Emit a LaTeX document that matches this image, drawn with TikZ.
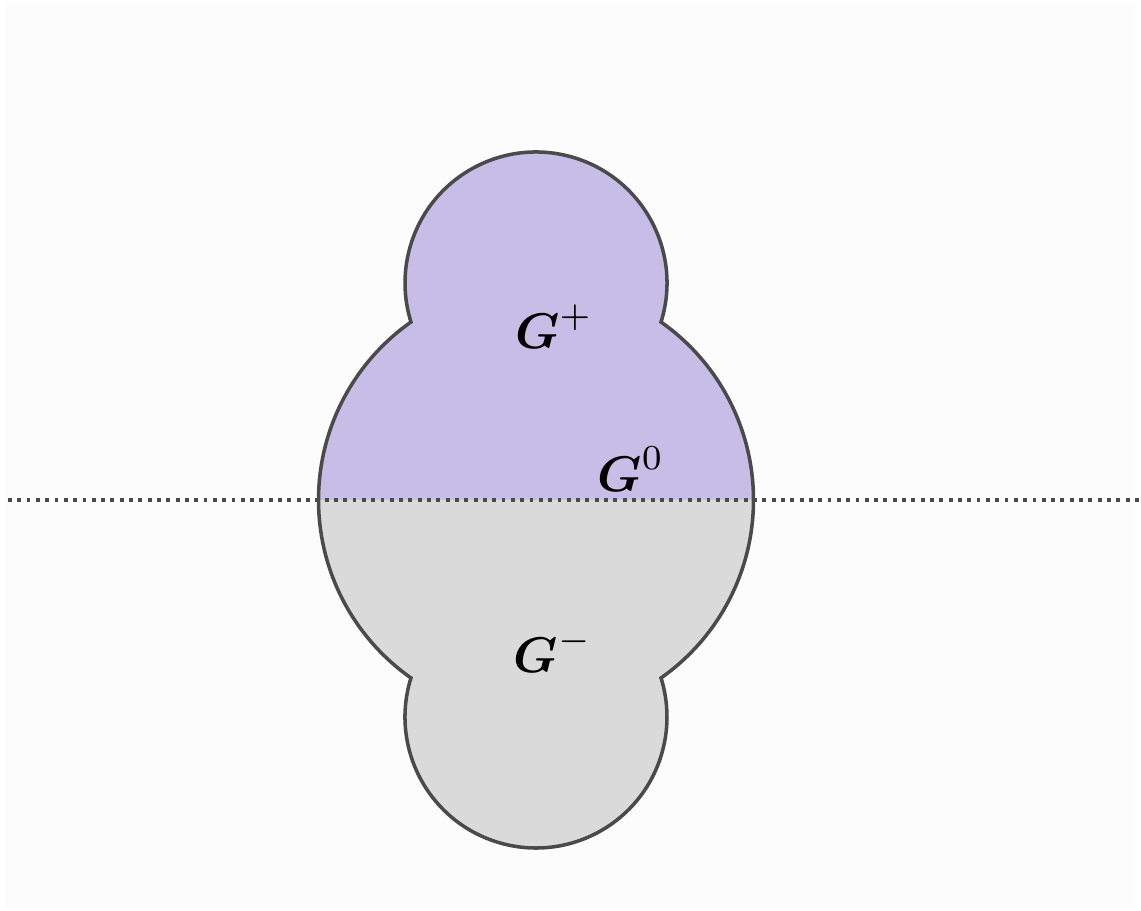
\documentclass[tikz,border=0pt]{standalone}
\usepackage{amsmath,amssymb}
\usetikzlibrary{calc}
\definecolor{plusfill}{HTML}{C6BEE6}
\definecolor{minusfill}{HTML}{DADADA}
\definecolor{rim}{HTML}{4A4A4A}
\definecolor{paper}{HTML}{FCFCFC}
\tikzset{
  rimline/.style={draw=rim,line width=2pt},
  cutline/.style={draw=rim,line width=2.2pt,dash pattern=on 2.2pt off 3.1pt},
  lbl/.style={scale=2.85,transform shape}
}
\begin{document}
\begin{tikzpicture}[x=1cm,y=1cm]
				\useasboundingbox (-10.72,-8.22) rectangle (12.1,10);
				\fill[paper] (-10.62,-8.16) rectangle (11.98,9.94);
				% radii and angles of the contact points
				\pgfmathsetmacro{\R}{4.35}
				\pgfmathsetmacro{\r}{2.62}
				\pgfmathsetmacro{\d}{4.34}
				\pgfmathsetmacro{\a}{(\d*\d+\R*\R-\r*\r)/(2*\d)}
				\pgfmathsetmacro{\h}{sqrt(\R*\R-\a*\a)}
				\pgfmathsetmacro{\bigang}{atan2(\a,\h)}
				\pgfmathsetmacro{\smallang}{atan2(\a-\d,\h)}
				\coordinate (O) at (0,0);
				\coordinate (E) at (\R,0);
				\coordinate (W) at (-\R,0);
				% upper part
				\filldraw[fill=plusfill,draw=none] (E) arc[start angle=0,end angle=\bigang,radius=\R]
				  arc[start angle=\smallang,end angle=180-\smallang,radius=\r]
				  arc[start angle=180-\bigang,end angle=180,radius=\R] -- cycle;
				% lower part
				\filldraw[fill=minusfill,draw=none] (E) arc[start angle=0,end angle=-\bigang,radius=\R]
				  arc[start angle=-\smallang,end angle=-180+\smallang,radius=\r]
				  arc[start angle=-180+\bigang,end angle=-180,radius=\R] -- cycle;
				% outline
				\draw[rimline] (E) arc[start angle=0,end angle=\bigang,radius=\R]
				  arc[start angle=\smallang,end angle=180-\smallang,radius=\r]
				  arc[start angle=180-\bigang,end angle=180+\bigang,radius=\R]
				  arc[start angle=180+\smallang,end angle=360-\smallang,radius=\r]
				  arc[start angle=-\bigang,end angle=0,radius=\R] -- cycle;
				% cut line
				\coordinate (L) at (-10.56,0);
				\coordinate (Rt) at (12.1,0);
				\draw[cutline] (L) -- (Rt);
				% labels
				\node[lbl] (gp) at (0.36,3.46) {$\boldsymbol{G}^{+}$};
				\node[lbl] (g0) at (1.9,0.62) {$\boldsymbol{G}^{0}$};
				\node[lbl] (gm) at (0.34,-3.02) {$\boldsymbol{G}^{-}$};
			\end{tikzpicture}
\end{document}
